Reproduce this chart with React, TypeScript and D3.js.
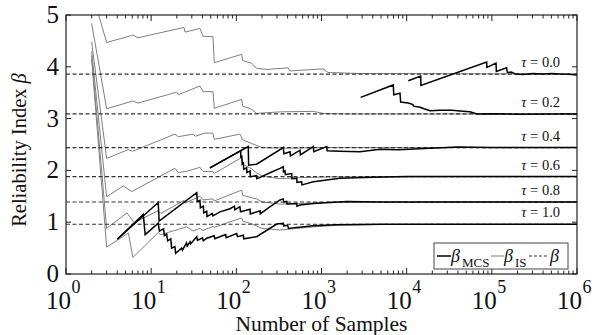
import React from 'react';
import * as d3 from 'd3';

type P = [number, number];

const W = 597, H = 335;
const ML = 66, MR = 577, MT = 15, MB = 274;
const FONT = '"Times New Roman", "Liberation Serif", Times, serif';

const tauLabels = ['0.0', '0.2', '0.4', '0.6', '0.8', '1.0'];
const betaExact = [3.86, 3.09, 2.44, 1.88, 1.39, 0.96];
const yTicks = [0, 1, 2, 3, 4, 5];
const xExponents = [0, 1, 2, 3, 4, 5, 6];

// Importance sampling estimates (gray)
const isTau00: P[] = [[2,5.46],[3,4.47],[6.1,4.61],[7,4.56],[24.3,4.76],[25,4.67],[37.4,4.74],[40.6,4.59],[53.2,4.58],[55.1,4.08],[115.6,4.24],[118.8,4.12],[151,4.07],[173,3.97],[229,3.95],[404,3.98],[427,3.92],[1041,3.96],[1192,3.89],[2831,3.87],[1e6,3.86]];
const isTau02: P[] = [[2,4.84],[3,3.19],[6.1,3.34],[7,3.30],[20,3.51],[20.8,3.46],[37.4,3.63],[40.6,3.52],[53.2,3.52],[55.1,3.20],[115.6,3.37],[118.8,3.24],[151,3.18],[173,3.10],[326,3.13],[801,3.14],[1041,3.10],[2000,3.09],[1e6,3.09]];
const isTau04: P[] = [[2,4.48],[3,2.23],[5.35,2.40],[6.1,2.37],[19,2.70],[20.8,2.65],[31,2.70],[33,2.66],[42.9,2.72],[53,2.72],[55,2.60],[110,2.70],[118.8,2.59],[151,2.52],[200,2.44],[404,2.43],[1000,2.44],[1e6,2.44]];
const isTau06: P[] = [[2,4.30],[3,1.49],[4.7,1.70],[5.9,1.59],[19,2.04],[20.8,1.96],[26,1.98],[37.4,2.06],[40.6,1.98],[53,1.98],[55,1.94],[115.6,2.25],[118.8,2.12],[151,2.03],[174,1.95],[200,1.89],[326,1.84],[560,1.86],[1260,1.875],[1e6,1.88]];
const isTau08: P[] = [[2,4.22],[3,0.88],[5.2,1.18],[6.3,0.99],[12,1.22],[13,1.17],[24.3,1.42],[25,1.37],[37.4,1.50],[40.6,1.43],[53,1.45],[55,1.41],[115.6,1.62],[118.8,1.52],[151,1.47],[174,1.45],[200,1.39],[326,1.35],[560,1.36],[1260,1.385],[1e6,1.39]];
const isTau10: P[] = [[2,4.15],[3,0.52],[5.4,0.79],[6.1,0.32],[12.1,0.80],[13,0.76],[26,0.91],[31,0.83],[37.4,0.88],[40.6,0.84],[53,0.92],[55,0.90],[101,1.05],[115.6,1.08],[118.8,1.02],[151,0.97],[200,0.88],[326,0.85],[512,0.88],[801,0.91],[1500,0.94],[5000,0.955],[1e6,0.96]];

// Monte Carlo estimates (black)
const mcsTau00: P[] = [[10450,3.73],[14620,3.82],[14700,3.64],[87000,4.09],[87500,3.99],[112000,4.07],[113000,3.91],[149000,3.98],[152000,3.89],[170000,3.90],[190000,3.86],[232000,3.85],[300000,3.87],[400000,3.86],[500000,3.87],[631000,3.86],[800000,3.855],[1000000,3.84]];
const mcsTau02: P[] = [[2884,3.41],[6966,3.65],[7050,3.46],[8350,3.49],[8500,3.32],[10450,3.30],[11860,3.27],[12000,3.24],[14350,3.22],[16000,3.19],[18790,3.15],[24620,3.16],[34040,3.16],[45850,3.14],[55340,3.13],[66950,3.09],[100000,3.095],[200000,3.085],[500000,3.09],[1e6,3.09]];
const mcsTau04: P[] = [[49,2.05],[138,2.46],[139.5,2.10],[173,2.12],[356,2.44],[362,2.32],[427,2.36],[432,2.28],[559,2.39],[565,2.30],[801,2.46],[812,2.36],[1151,2.46],[1165,2.38],[1648,2.37],[2831,2.36],[4864,2.41],[8000,2.40],[18790,2.43],[40000,2.45],[100000,2.44],[1e6,2.44]];
const mcsTau06: P[] = [[49,2.05],[112.5,2.38],[113,2.26],[116,2.27],[117,2.12],[121,2.14],[122,2.02],[132,2.05],[133,1.96],[145,1.99],[146,1.88],[173,1.90],[174,1.84],[181,1.85],[260,1.97],[326,2.04],[356,2.07],[358,1.97],[373,1.99],[376,1.92],[447,1.94],[450,1.84],[512,1.85],[515,1.77],[585,1.78],[590,1.72],[801,1.78],[1648,1.85],[4000,1.87],[10000,1.88],[1e6,1.88]];
const mcsTau08: P[] = [[4,0.67],[12.1,1.38],[12.4,1.02],[34.3,1.57],[34.8,1.40],[37.4,1.42],[37.8,1.28],[41,1.31],[41.5,1.18],[44.9,1.21],[45.3,1.11],[49.1,1.14],[52,1.17],[53,1.12],[64.3,1.20],[84.3,1.26],[95,1.31],[96,1.24],[110,1.30],[112,1.20],[145,1.25],[146,1.16],[190,1.22],[191,1.16],[240,1.28],[326,1.43],[356,1.45],[360,1.39],[390,1.40],[393,1.35],[512,1.36],[515,1.31],[559,1.33],[801,1.36],[1976,1.40],[5000,1.39],[1e6,1.39]];
const mcsTau10: P[] = [[4,0.67],[8.08,1.15],[8.5,0.76],[12.1,0.98],[12.5,0.83],[14,0.87],[14.3,0.74],[15.2,0.77],[15.6,0.64],[17,0.68],[17.4,0.50],[19,0.53],[19.4,0.40],[22.8,0.50],[23.3,0.46],[26,0.60],[26.5,0.54],[28.6,0.62],[29,0.58],[34.3,0.72],[35,0.65],[40,0.70],[41,0.64],[45,0.69],[55,0.74],[56,0.68],[64,0.72],[75,0.76],[76,0.70],[101,0.78],[103,0.72],[121,0.75],[122,0.68],[145,0.70],[173,0.72],[298,0.965],[356,0.98],[360,0.93],[400,0.94],[410,0.88],[512,0.90],[801,0.93],[1500,0.95],[5000,0.96],[1e6,0.96]];

const isSeries = [isTau00, isTau02, isTau04, isTau06, isTau08, isTau10];
const mcsSeries = [mcsTau00, mcsTau02, mcsTau04, mcsTau06, mcsTau08, mcsTau10];

export default function App() {
  const x = d3.scaleLog().domain([1, 1e6]).range([ML, MR]);
  const y = d3.scaleLinear().domain([0, 5]).range([MB, MT]);
  const line = d3.line<P>().x(d => x(d[0])).y(d => y(d[1]));

  const minor: number[] = [];
  for (let e = 0; e < 6; e++) for (let m = 2; m <= 9; m++) minor.push(m * Math.pow(10, e));

  const ts = { fontFamily: FONT };

  return (
    <svg width={W} height={H} style={{ position: 'absolute', left: 0, top: 0, background: '#fff', fontFamily: FONT }}>
      <defs>
        <clipPath id="plot"><rect x={ML} y={MT} width={MR - ML} height={MB - MT} /></clipPath>
      </defs>
      <rect x={0} y={0} width={W} height={H} fill="#fff" />
      <g clipPath="url(#plot)">
        {isSeries.map((s, i) => (
          <path key={'is' + i} d={line(s) || ''} fill="none" stroke="#7f7f7f" strokeWidth={1} />
        ))}
        {betaExact.map((b, i) => (
          <line key={'b' + i} x1={ML} x2={MR} y1={y(b)} y2={y(b)} stroke="#333" strokeWidth={1.2} strokeDasharray="4,2.5" />
        ))}
        {mcsSeries.map((s, i) => (
          <path key={'mcs' + i} d={line(s) || ''} fill="none" stroke="#000" strokeWidth={1.5} strokeLinejoin="miter" />
        ))}
      </g>
      {betaExact.map((b, i) => (
        <text key={'t' + i} x={560} y={y(b) - 7} fontSize={14.5} textAnchor="end" fill="#111" style={ts}>
          <tspan fontStyle="italic">τ</tspan> = {tauLabels[i]}
        </text>
      ))}
      <rect x={ML} y={MT} width={MR - ML} height={MB - MT} fill="none" stroke="#222" strokeWidth={1.2} />
      {xExponents.map(e => {
        const px = x(Math.pow(10, e));
        return (
          <g key={'xt' + e}>
            <line x1={px} x2={px} y1={MB} y2={MB - 6} stroke="#222" />
            <line x1={px} x2={px} y1={MT} y2={MT + 6} stroke="#222" />
          </g>
        );
      })}
      {minor.map((v, i) => {
        const px = x(v);
        return (
          <g key={'mn' + i}>
            <line x1={px} x2={px} y1={MB} y2={MB - 3.5} stroke="#222" />
            <line x1={px} x2={px} y1={MT} y2={MT + 3.5} stroke="#222" />
          </g>
        );
      })}
      {yTicks.map(t => (
        <g key={'yt' + t}>
          <line x1={ML} x2={ML + 5} y1={y(t)} y2={y(t)} stroke="#222" />
          <line x1={MR} x2={MR - 5} y1={y(t)} y2={y(t)} stroke="#222" />
          <text x={59} y={y(t) + 8} fontSize={25} textAnchor="end" fill="#111" style={ts}>{t}</text>
        </g>
      ))}
      {xExponents.map(e => {
        const px = x(Math.pow(10, e));
        return (
          <g key={'xl' + e}>
            <text x={px + 5} y={309} fontSize={25} textAnchor="end" fill="#111" style={ts}>10</text>
            <text x={px + 5.5} y={293} fontSize={18} textAnchor="start" fill="#111" style={ts}>{e}</text>
          </g>
        );
      })}
      <text x={(ML + MR) / 2} y={331} fontSize={21.5} textAnchor="middle" fill="#111" style={ts}>Number of Samples</text>
      <text transform={`translate(26, 150) rotate(-90)`} fontSize={20.5} textAnchor="middle" fill="#111" style={ts}>
        Reliability Index <tspan fontStyle="italic">β</tspan>
      </text>
      <g>
        <rect x={434} y={243} width={134} height={26} fill="#fff" stroke="#444" strokeWidth={1} />
        <line x1={437} x2={451} y1={256} y2={256} stroke="#000" strokeWidth={1.5} />
        <text x={451} y={262} fontSize={18} fontStyle="italic" fill="#111" style={ts}>β</text>
        <text x={462} y={267} fontSize={13} fill="#111" style={ts}>MCS</text>
        <line x1={491} x2={504} y1={256} y2={256} stroke="#7f7f7f" strokeWidth={1} />
        <text x={504} y={262} fontSize={18} fontStyle="italic" fill="#111" style={ts}>β</text>
        <text x={515} y={267} fontSize={13} fill="#111" style={ts}>IS</text>
        <line x1={529} x2={549} y1={256} y2={256} stroke="#333" strokeWidth={1.2} strokeDasharray="3,2" />
        <text x={550} y={262} fontSize={18} fontStyle="italic" fill="#111" style={ts}>β</text>
      </g>
    </svg>
  );
}
